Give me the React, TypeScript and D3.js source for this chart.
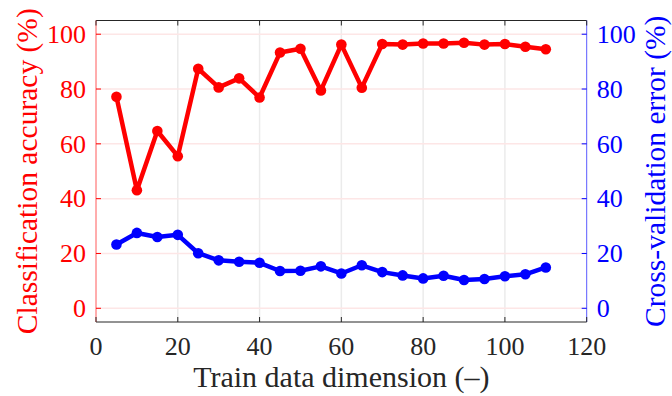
import React from "react";
import * as d3 from "d3";

const dims = [5, 10, 15, 20, 25, 30, 35, 40, 45, 50, 55, 60, 65, 70, 75, 80, 85, 90, 95, 100, 105, 110];
const accuracy = [77.2, 43.1, 64.7, 55.5, 87.4, 80.6, 83.9, 76.9, 93.3, 94.7, 79.5, 96.2, 80.5, 96.4, 96.2, 96.6, 96.6, 96.9, 96.2, 96.4, 95.4, 94.5];
const cvError = [23.3, 27.5, 26.0, 26.8, 20.1, 17.5, 17.0, 16.6, 13.6, 13.7, 15.3, 12.7, 15.7, 13.2, 12.0, 10.9, 11.9, 10.3, 10.7, 11.7, 12.4, 14.9];
const xTicks = [0, 20, 40, 60, 80, 100, 120];
const yTicks = [0, 20, 40, 60, 80, 100];

const xLabel = "Train data dimension (–)";
const yLeftLabel = "Classification accuracy (%)";
const yRightLabel = "Cross-validation error (%)";

const W = 672, H = 396;
const L = 96, R = 586.7, T = 20.5, B = 322;
const FONT = "'Liberation Serif', 'Times New Roman', serif";

export default function App() {
  const x = d3.scaleLinear().domain([0, 120]).range([L, R]);
  const y = d3.scaleLinear().domain([-5, 105]).range([B, T]);
  const line = d3.line<number>().x((_, i) => x(dims[i])).y((d) => y(d));

  return (
    <svg width={W} height={H} style={{ position: "absolute", left: 0, top: 0, background: "#fff" }}>
      <rect x={0} y={0} width={W} height={H} fill="#fff" />
      {/* grid */}
      {xTicks.slice(1, -1).map((t) => (
        <line key={"gx" + t} x1={x(t)} x2={x(t)} y1={T} y2={B} stroke="#ebebeb" strokeWidth={1.5} />
      ))}
      {yTicks.map((t) => (
        <line key={"gy" + t} x1={L} x2={R} y1={y(t)} y2={y(t)} stroke="#fde6e6" strokeWidth={1.5} />
      ))}
      {/* box */}
      <line x1={L} x2={R} y1={T} y2={T} stroke="#262626" strokeWidth={1} />
      <line x1={L} x2={R} y1={B} y2={B} stroke="#262626" strokeWidth={1} />
      <line x1={L} x2={L} y1={T} y2={B} stroke="#ff5a5a" strokeWidth={1} />
      <line x1={R} x2={R} y1={T} y2={B} stroke="#5a5aff" strokeWidth={1} />
      {/* ticks */}
      {xTicks.map((t) => (
        <g key={"xt" + t}>
          <line x1={x(t)} x2={x(t)} y1={T} y2={T + 5} stroke="#262626" strokeWidth={1} />
          <line x1={x(t)} x2={x(t)} y1={B} y2={B - 5} stroke="#262626" strokeWidth={1} />
          <text x={x(t)} y={355} textAnchor="middle" fontFamily={FONT} fontSize={26} fill="#262626">{t}</text>
        </g>
      ))}
      {yTicks.map((t) => (
        <g key={"yt" + t}>
          <line x1={L} x2={L + 5} y1={y(t)} y2={y(t)} stroke="#ff0000" strokeWidth={1} />
          <line x1={R} x2={R - 5} y1={y(t)} y2={y(t)} stroke="#0000ff" strokeWidth={1} />
          <text x={L - 10} y={y(t)} dy="0.34em" textAnchor="end" fontFamily={FONT} fontSize={26} fill="#ff0000">{t}</text>
          <text x={R + 10} y={y(t)} dy="0.34em" textAnchor="start" fontFamily={FONT} fontSize={26} fill="#0000ff">{t}</text>
        </g>
      ))}
      {/* series */}
      <path d={line(accuracy) || ""} fill="none" stroke="#ff0000" strokeWidth={4.5} strokeLinejoin="round" />
      {accuracy.map((v, i) => (
        <circle key={"a" + i} cx={x(dims[i])} cy={y(v)} r={5.3} fill="#ff0000" />
      ))}
      <path d={line(cvError) || ""} fill="none" stroke="#0000ff" strokeWidth={4.5} strokeLinejoin="round" />
      {cvError.map((v, i) => (
        <circle key={"e" + i} cx={x(dims[i])} cy={y(v)} r={5.3} fill="#0000ff" />
      ))}
      {/* labels */}
      <text x={(L + R) / 2} y={387} textAnchor="middle" fontFamily={FONT} fontSize={30} fill="#262626">{xLabel}</text>
      <text transform={`translate(37, ${(T + B) / 2}) rotate(-90)`} textAnchor="middle" fontFamily={FONT} fontSize={29.5} fill="#ff0000">{yLeftLabel}</text>
      <text transform={`translate(665, ${(T + B) / 2}) rotate(-90)`} textAnchor="middle" fontFamily={FONT} fontSize={29.5} fill="#0000ff">{yRightLabel}</text>
    </svg>
  );
}
